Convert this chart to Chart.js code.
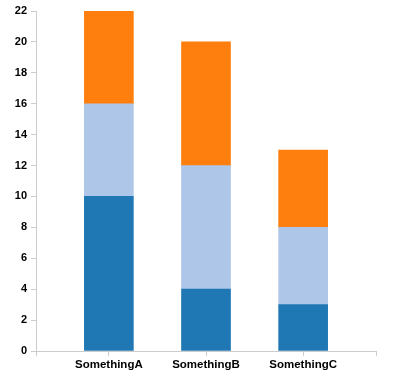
<!DOCTYPE html>
<html>
<head>
<meta charset="utf-8">
<script src="https://cdn.jsdelivr.net/npm/chart.js@4"></script>
<style>
  html, body { margin: 0; padding: 0; background: #fff; }
  #wrap { width: 398px; height: 382px; }
</style>
</head>
<body>
<div id="wrap"><canvas id="chart" width="398" height="382"></canvas></div>
<script>
const CATEGORIES = ["SomethingA", "SomethingB", "SomethingC"];
const SERIES_1 = [10, 4, 3];
const SERIES_2 = [6, 8, 5];
const SERIES_3 = [6, 8, 5];
const Y_TICKS = [0, 2, 4, 6, 8, 10, 12, 14, 16, 18, 20, 22];

const COLORS = ["#1f77b4", "#aec7e8", "#ff7f0e"];
const AXIS = "#cccccc";

// bars sit on a linear x scale so the outer padding matches the reference
const toPoints = vals => vals.map((v, i) => ({ x: i, y: v }));

const datasets = [SERIES_1, SERIES_2, SERIES_3].map((vals, i) => ({
  label: "s" + (i + 1),
  data: toPoints(vals),
  backgroundColor: COLORS[i],
  borderWidth: 0,
  barThickness: 49,
}));

const ctx = document.getElementById("chart").getContext("2d");
new Chart(ctx, {
  type: "bar",
  data: { datasets },
  options: {
    responsive: false,
    animation: false,
    layout: { padding: { top: 11, right: 22, bottom: 0, left: 0 } },
    plugins: { legend: { display: false }, tooltip: { enabled: false } },
    scales: {
      x: {
        type: "linear",
        stacked: true,
        offset: false,
        min: -0.75,
        max: 2.75,
        afterFit: s => { s.height = 31; },
        afterBuildTicks: s => {
          s.ticks = [-0.75, 0, 1, 2, 2.75].map(v => ({ value: v }));
        },
        ticks: {
          autoSkip: false,
          maxRotation: 0,
          padding: 2,
          color: "#000",
          font: { family: "Liberation Sans", size: 11.5, weight: "bold" },
          callback: v => CATEGORIES[v] ?? "",
        },
        grid: { drawOnChartArea: false, offset: false, color: AXIS, tickLength: 5 },
        border: { color: AXIS },
      },
      y: {
        stacked: true,
        min: 0,
        max: 22,
        afterFit: s => { s.width = 36; },
        afterBuildTicks: s => { s.ticks = Y_TICKS.map(v => ({ value: v })); },
        ticks: {
          padding: 4,
          color: "#000",
          font: { family: "Liberation Sans", size: 11, weight: "bold" },
        },
        grid: { drawOnChartArea: false, color: AXIS, tickLength: 5 },
        border: { color: AXIS },
      },
    },
  },
});
</script>
</body>
</html>
